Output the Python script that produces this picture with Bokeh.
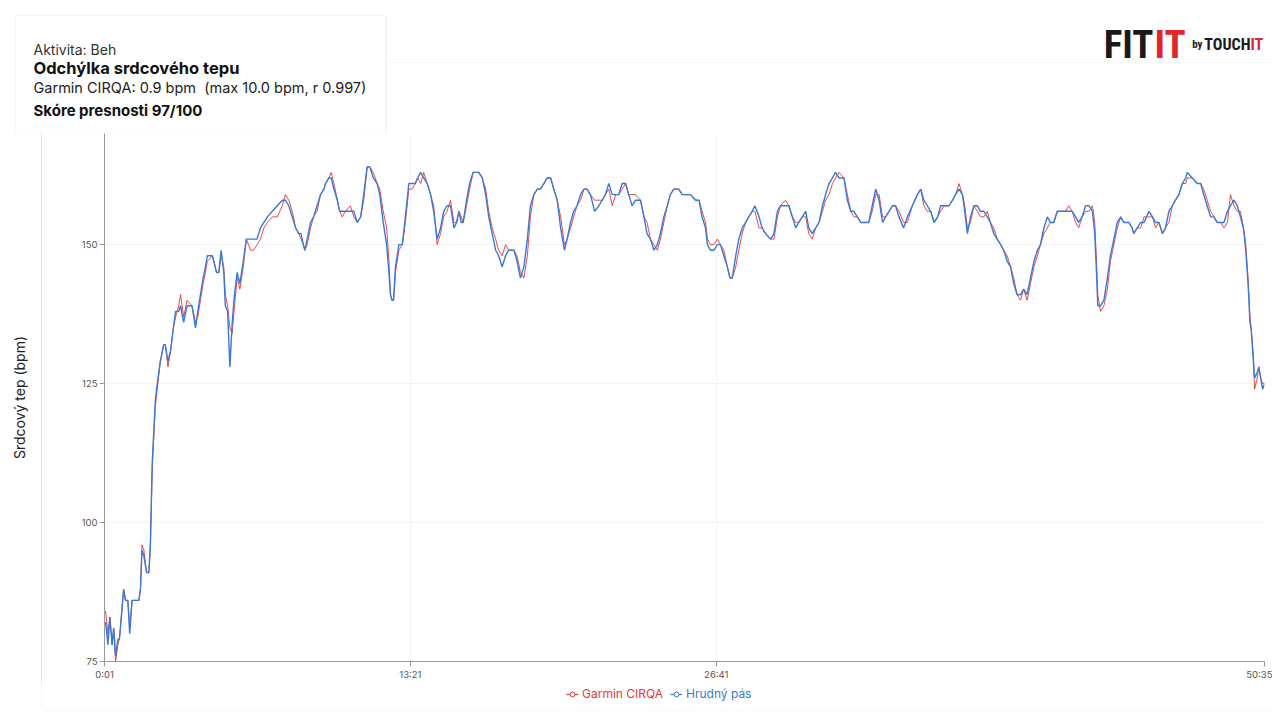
from bokeh.plotting import figure
from bokeh.layouts import column
from bokeh.models import Range1d, FixedTicker, Legend, LegendItem, Label, BoxAnnotation
from bokeh.embed import file_html
from bokeh.resources import INLINE

# time of each sample in seconds
time_s = [1, 4, 10, 15, 21, 25, 30, 36, 40, 45, 51, 56, 62, 67, 73, 82, 91, 95, 99, 104,
          111, 117, 121, 126, 134, 139, 147, 156, 160, 167, 174, 181, 187, 195, 200, 208, 217, 230, 239, 245,
          252, 259, 265, 270, 283, 287, 294, 300, 306, 313, 317, 323, 329, 335, 341, 348, 355, 364, 372, 383,
          391, 400, 409, 418, 427, 440, 453, 466, 474, 483, 492, 501, 509, 515, 521, 525, 531, 540, 548, 557,
          566, 575, 579, 588, 594, 601, 610, 616, 623, 631, 644, 653, 662, 671, 679, 688, 695, 704, 714, 721,
          730, 739, 745, 749, 753, 757, 762, 771, 780, 788, 797, 806, 814, 820, 828, 836, 845, 854, 862, 871,
          880, 888, 897, 906, 915, 922, 928, 934, 939, 948, 956, 965, 980, 989, 998, 1006, 1015, 1024, 1032, 1041,
          1050, 1058, 1072, 1080, 1089, 1098, 1107, 1115, 1124, 1133, 1141, 1150, 1159, 1168, 1176, 1185, 1194, 1204, 1211, 1220,
          1228, 1237, 1246, 1255, 1263, 1272, 1283, 1294, 1303, 1311, 1320, 1329, 1338, 1346, 1355, 1364, 1372, 1381, 1390, 1403,
          1412, 1420, 1429, 1438, 1447, 1455, 1464, 1473, 1481, 1490, 1503, 1512, 1534, 1547, 1556, 1564, 1573, 1578, 1586, 1595,
          1604, 1612, 1621, 1630, 1637, 1643, 1652, 1660, 1669, 1678, 1686, 1695, 1702, 1713, 1721, 1730, 1743, 1752, 1761, 1769,
          1782, 1791, 1800, 1809, 1817, 1826, 1835, 1843, 1852, 1861, 1870, 1879, 1887, 1896, 1905, 1913, 1922, 1935, 1944, 1953,
          1961, 1970, 1979, 2000, 2009, 2018, 2027, 2036, 2044, 2053, 2062, 2070, 2079, 2091, 2101, 2114, 2127, 2136, 2144, 2153,
          2162, 2171, 2180, 2188, 2197, 2210, 2219, 2227, 2236, 2245, 2251, 2258, 2266, 2275, 2284, 2292, 2301, 2310, 2318, 2327,
          2336, 2345, 2353, 2362, 2371, 2379, 2388, 2397, 2405, 2414, 2423, 2432, 2441, 2449, 2458, 2467, 2475, 2484, 2493, 2502,
          2515, 2523, 2532, 2541, 2549, 2558, 2567, 2576, 2585, 2591, 2595, 2599, 2606, 2615, 2624, 2632, 2641, 2650, 2659, 2667,
          2680, 2689, 2693, 2702, 2711, 2720, 2733, 2742, 2750, 2759, 2768, 2776, 2785, 2794, 2802, 2811, 2820, 2829, 2833, 2846,
          2859, 2868, 2876, 2885, 2894, 2903, 2911, 2920, 2929, 2938, 2946, 2955, 2964, 2972, 2980, 2986, 2992, 2997, 3000, 3006,
          3009, 3016, 3020, 3025, 3030, 3035]

# chest strap (reference) heart rate, bpm
hrudny_pas = [82, 82, 78, 83, 78, 81, 76, 79, 79, 83, 88, 86, 86, 80, 86, 86, 86, 88, 95, 94,
              91, 91, 96, 111, 122, 125, 129, 132, 132, 129, 131, 135, 138, 138, 139, 136, 139, 139, 135, 138,
              141, 144, 146, 148, 148, 147, 145, 145, 149, 145, 139, 138, 128, 136, 141, 145, 143, 147, 151, 151,
              151, 151, 153, 154, 155, 156, 157, 158, 158, 157, 155, 153, 152, 152, 150, 149, 151, 154, 155, 157,
              159, 160, 161, 162, 162, 160, 158, 156, 156, 156, 156, 156, 154, 155, 159, 164, 164, 162, 161, 159,
              154, 150, 145, 141, 140, 140, 146, 150, 150, 155, 161, 161, 161, 162, 163, 162, 161, 159, 156, 151,
              153, 156, 157, 157, 153, 154, 156, 154, 154, 158, 161, 163, 163, 162, 159, 155, 152, 149, 148, 146,
              148, 149, 149, 147, 144, 146, 151, 157, 159, 160, 160, 161, 162, 162, 160, 158, 153, 149, 151, 154,
              156, 157, 159, 160, 160, 159, 156, 157, 158, 159, 161, 159, 159, 159, 161, 161, 159, 157, 158, 158,
              155, 152, 151, 149, 150, 152, 155, 157, 159, 160, 160, 159, 159, 158, 158, 155, 153, 150, 149, 149,
              150, 150, 148, 146, 144, 144, 148, 151, 153, 154, 155, 156, 157, 155, 153, 152, 151, 152, 156, 157,
              157, 157, 155, 153, 154, 155, 156, 153, 152, 153, 154, 157, 159, 161, 162, 163, 162, 162, 158, 156,
              156, 155, 154, 154, 157, 160, 158, 154, 155, 156, 157, 157, 155, 153, 155, 157, 159, 160, 158, 157,
              156, 154, 155, 157, 157, 157, 158, 159, 160, 159, 156, 152, 155, 157, 157, 156, 156, 155, 154, 152,
              151, 150, 149, 147, 146, 143, 141, 141, 142, 141, 144, 147, 149, 150, 153, 155, 154, 154, 156, 156,
              156, 156, 156, 155, 154, 155, 157, 157, 156, 152, 146, 139, 139, 140, 144, 148, 151, 154, 155, 154,
              154, 153, 152, 153, 154, 154, 156, 155, 154, 154, 152, 153, 156, 157, 158, 159, 161, 162, 163, 162,
              161, 161, 159, 157, 155, 155, 154, 154, 154, 156, 157, 158, 157, 155, 153, 149, 143, 136, 135, 129,
              126, 127, 128, 126, 124, 125]

# Garmin CIRQA heart rate, bpm
garmin_cirqa = [84, 84, 80, 83, 78, 81, 75, 78, 79, 83, 88, 86, 86, 81, 86, 86, 86, 88, 96, 95,
                91, 91, 96, 110, 121, 124, 129, 132, 132, 128, 131, 135, 137, 139, 141, 137, 140, 139, 136, 137,
                140, 143, 145, 147, 148, 147, 145, 145, 148, 146, 141, 139, 135, 134, 139, 144, 142, 146, 151, 149,
                149, 150, 151, 153, 154, 155, 155, 157, 159, 158, 156, 153, 152, 151, 150, 149, 150, 153, 155, 156,
                159, 160, 161, 162, 163, 161, 158, 156, 155, 156, 157, 155, 154, 155, 158, 164, 164, 163, 161, 160,
                156, 153, 147, 141, 140, 140, 145, 149, 150, 154, 160, 160, 161, 162, 161, 163, 161, 159, 157, 150,
                152, 155, 156, 158, 154, 154, 156, 155, 154, 157, 160, 163, 163, 162, 160, 156, 153, 151, 149, 148,
                150, 149, 149, 148, 145, 144, 148, 155, 159, 160, 160, 161, 162, 162, 160, 158, 155, 150, 151, 153,
                155, 157, 158, 160, 160, 159, 158, 158, 158, 159, 160, 157, 159, 159, 160, 161, 159, 159, 159, 158,
                155, 154, 151, 150, 149, 151, 154, 157, 159, 160, 160, 159, 159, 158, 158, 156, 154, 151, 150, 150,
                151, 150, 149, 146, 144, 144, 146, 149, 152, 154, 155, 156, 156, 153, 153, 152, 151, 151, 155, 157,
                158, 157, 155, 154, 154, 155, 155, 152, 151, 153, 154, 156, 158, 159, 161, 162, 163, 162, 159, 156,
                155, 155, 154, 154, 156, 159, 159, 155, 155, 156, 157, 157, 156, 154, 154, 157, 159, 160, 157, 156,
                156, 154, 155, 156, 157, 157, 158, 159, 161, 159, 157, 153, 154, 157, 156, 155, 155, 156, 154, 153,
                151, 150, 149, 148, 146, 144, 141, 140, 142, 140, 143, 146, 148, 150, 152, 153, 154, 154, 156, 156,
                156, 157, 156, 154, 153, 155, 156, 156, 157, 154, 148, 141, 138, 139, 142, 147, 150, 153, 155, 154,
                154, 153, 152, 153, 153, 155, 155, 155, 153, 154, 152, 153, 154, 157, 158, 159, 161, 161, 162, 162,
                161, 161, 160, 158, 156, 155, 154, 154, 153, 154, 159, 157, 156, 156, 153, 150, 144, 137, 135, 130,
                124, 126, 128, 126, 125, 125]

x_tick_values = [1, 801, 1601, 3035]
x_tick_labels = ["0:01", "13:21", "26:41", "50:35"]
y_tick_values = [75, 100, 125, 150]
y_min, y_max = 75, 170

info_lines = ["Aktivita: Beh", "Odchýlka srdcového tepu",
              "Garmin CIRQA: 0.9 bpm\u00a0 (max 10.0 bpm, r 0.997)", "Skóre presnosti 97/100"]
series_names = ["Garmin CIRQA", "Hrudný pás"]
y_axis_title = "Srdcový tep (bpm)"

RED = "#e0393b"
BLUE = "#3a78d6"
FONT = "Inter"
CARD = "#e6e6e6"
W = 1272
HEAD_H, MAIN_H, FOOT_H = 133, 550, 29
NAN = float("nan")


def blank(h):
    f = figure(width=W, height=h, output_backend="svg", toolbar_location=None, title=None,
               x_range=Range1d(0, W), y_range=Range1d(h, 0),
               x_axis_type=None, y_axis_type=None,
               min_border_left=0, min_border_right=0, min_border_top=0, min_border_bottom=0)
    f.frame_align = False
    f.outline_line_color = None
    f.grid.visible = False
    f.background_fill_color = "white"
    f.border_fill_color = "white"
    return f


# ---------------- header: info box + logo ----------------
head = blank(HEAD_H)
head.add_layout(BoxAnnotation(left=41, right=W + 20, top=62, bottom=HEAD_H + 40,
                              fill_alpha=0, line_color=CARD, line_width=1, border_radius=8))
head.add_layout(BoxAnnotation(left=16, right=386, top=16, bottom=133.5,
                              fill_color="#f1f1f1", fill_alpha=1, line_color=None))
head.add_layout(BoxAnnotation(left=15, right=385, top=15, bottom=132.5,
                              fill_color="white", fill_alpha=1, line_color="#e2e2e2", line_width=1))
styles = [("14px", "normal", "#333333", 49), ("16.5px", "bold", "#111111", 67.5),
          ("14.5px", "normal", "#222222", 86.5), ("15px", "bold", "#111111", 109.5)]
for txt, (size, style, color, yy) in zip(info_lines, styles):
    head.add_layout(Label(x=33, y=yy, text=txt, text_font=FONT, text_font_size=size,
                          text_font_style=style, text_color=color,
                          text_baseline="alphabetic", text_align="left"))

LOGO_FONT = "'Liberation Sans Narrow', 'Arial Narrow', 'Roboto Condensed', Roboto"
for txt, xx, align, size, color in [("FIT", 1153, "right", "39px", "#1a1a1a"),
                                    ("IT", 1154, "left", "39px", "#e0262b"),
                                    ("by", 1202, "right", "11px", "#1a1a1a"),
                                    ("TOUCH", 1250, "right", "16px", "#1a1a1a"),
                                    ("IT", 1250, "left", "16px", "#e0262b")]:
    head.add_layout(Label(x=xx, y=44, text=txt, text_font=LOGO_FONT, text_font_size=size,
                          text_font_style="bold", text_color=color,
                          text_align=align, text_baseline="alphabetic"))

# ---------------- main chart ----------------
p = figure(width=W, height=MAIN_H, output_backend="svg", toolbar_location=None, title=None,
           x_range=Range1d(time_s[0], time_s[-1]), y_range=Range1d(y_min, y_max),
           min_border_left=104, min_border_right=8, min_border_top=0, min_border_bottom=22)
p.frame_align = False
p.outline_line_color = None
p.background_fill_color = "white"
p.border_fill_color = "white"
p.border_fill_alpha = 0
# faint card edge at the left of the chart, drawn by CSS behind the transparent border
p.styles = {"background": "linear-gradient(to right, white 41px, #e6e6e6 41px, #e6e6e6 42px, white 42px)"}

p.xgrid.ticker = FixedTicker(ticks=x_tick_values)
p.ygrid.ticker = FixedTicker(ticks=y_tick_values)
p.xgrid.grid_line_color = "#f4f4f4"
p.ygrid.grid_line_color = "#f4f4f4"

p.xaxis.ticker = FixedTicker(ticks=x_tick_values)
p.xaxis.major_label_overrides = {v: l for v, l in zip(x_tick_values, x_tick_labels)}
p.yaxis.ticker = FixedTicker(ticks=y_tick_values)
for ax in (p.xaxis[0], p.yaxis[0]):
    ax.axis_line_color = "#9a9a9a"
    ax.major_tick_line_color = "#9a9a9a"
    ax.major_tick_out = 5
    ax.major_tick_in = 0
    ax.minor_tick_line_color = None
    ax.major_label_text_font = FONT
    ax.major_label_text_font_size = "9.5px"
    ax.major_label_text_color = "#555555"
    ax.major_label_standoff = 2
p.yaxis.axis_label = y_axis_title
p.yaxis.axis_label_text_font = FONT
p.yaxis.axis_label_text_font_size = "14px"
p.yaxis.axis_label_text_font_style = "normal"
p.yaxis.axis_label_text_color = "#222222"
p.yaxis.axis_label_standoff = 51

p.line(time_s, garmin_cirqa, line_color=RED, line_width=1.0, line_alpha=0.9)
p.line(time_s, hrudny_pas, line_color=BLUE, line_width=1.4)

# ---------------- footer: legend ----------------
foot = blank(FOOT_H)
foot.add_layout(BoxAnnotation(left=41, right=W + 20, top=-40, bottom=28.5,
                              fill_alpha=0, line_color=CARD, line_width=1, border_radius=8))
for name, color, xx in [(series_names[0], RED, 566), (series_names[1], BLUE, 670)]:
    ln = foot.line([NAN], [NAN], line_color=color, line_width=1.2)
    dot = foot.scatter([NAN], [NAN], marker="circle", size=5, fill_color="white",
                       line_color=color, line_width=1)
    lg = Legend(items=[LegendItem(label=name, renderers=[ln, dot])], location=(xx, 11),
                orientation="horizontal", glyph_width=12, glyph_height=14, label_height=14,
                label_standoff=4, padding=0, margin=0, spacing=0,
                border_line_color=None, background_fill_alpha=0,
                label_text_font=FONT, label_text_font_size="12px", label_text_color=color)
    foot.add_layout(lg, "center")

layout = column(head, p, foot, spacing=0)
open("out.html", "w").write(file_html(layout, INLINE))
